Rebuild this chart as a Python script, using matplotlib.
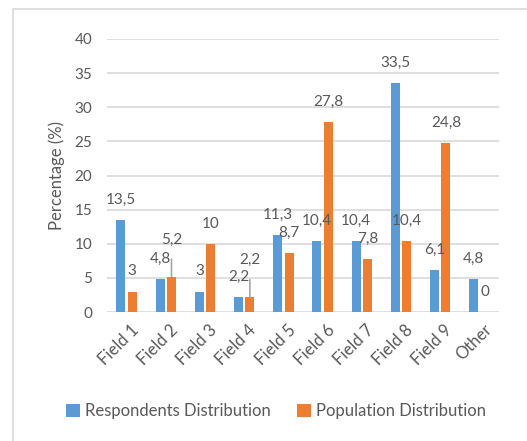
import matplotlib.pyplot as plt
import matplotlib.transforms as mtransforms
import numpy as np
from matplotlib.patches import Rectangle

categories = ["Field 1", "Field 2", "Field 3", "Field 4", "Field 5",
              "Field 6", "Field 7", "Field 8", "Field 9", "Other"]
respondents = [13.5, 4.8, 3.0, 2.2, 11.3, 10.4, 10.4, 33.5, 6.1, 4.8]
population = [3.0, 5.2, 10.0, 2.2, 8.7, 27.8, 7.8, 10.4, 24.8, 0.0]

# labels that were pulled up and tied back to their bar with a leader line
leaderPopulation = {1, 3}

blue = "#5B9BD5"
orange = "#ED7D31"
textColor = "#595959"
gridColor = "#D9D9D9"

plt.rcParams['font.family'] = ['Lato', 'DejaVu Sans']

fig = plt.figure(figsize=(5.27, 4.41), dpi=100)
fig.patches.append(Rectangle((13 / 527, -0.1), 1.0, 1 - 9 / 441 + 0.1,
                             transform=fig.transFigure, fill=False,
                             edgecolor="#D9D9D9", linewidth=1.2))

ax = fig.add_axes([107 / 527, 1 - 312 / 441, 392 / 527, 273 / 441])

x = np.arange(len(categories))
barWidth = 0.23
offset = 0.145
respBars = ax.bar(x - offset, respondents, barWidth, color=blue,
                  label="Respondents Distribution", zorder=3)
popBars = ax.bar(x + offset, population, barWidth, color=orange,
                 label="Population Distribution", zorder=3)

def fmt(v):
    return ("%g" % v).replace(".", ",")

for i, v in enumerate(respondents):
    ax.annotate(fmt(v), (x[i] - offset, v), xytext=(0, 14.5),
                textcoords="offset points", ha="center", va="center",
                fontsize=11, color=textColor)

for i, v in enumerate(population):
    if i in leaderPopulation:
        ax.annotate(fmt(v), (x[i] + offset, v), xytext=(0, 26.5),
                    textcoords="offset points", ha="center", va="center",
                    fontsize=11, color=textColor,
                    arrowprops=dict(arrowstyle="-", color="#A6A6A6", lw=1.2,
                                    shrinkA=7, shrinkB=0))
    else:
        ax.annotate(fmt(v), (x[i] + offset, v), xytext=(0, 14.5),
                    textcoords="offset points", ha="center", va="center",
                    fontsize=11, color=textColor)

ax.set_xlim(-0.5, len(categories) - 0.5)
ax.set_ylim(0, 40)
ax.set_yticks(np.arange(0, 41, 5))
ax.set_xticks(x)
ax.set_xticklabels(categories, rotation=45, ha="right", rotation_mode="anchor")
ax.tick_params(axis="both", length=0, labelsize=11, labelcolor=textColor)
ax.tick_params(axis="x", labelsize=12, pad=7)
ax.tick_params(axis="y", pad=10.5)

# nudge the slanted category names a little to the right
shift = mtransforms.ScaledTranslation(4 / 100, 0, fig.dpi_scale_trans)
for lbl in ax.get_xticklabels():
    lbl.set_transform(lbl.get_transform() + shift)

ax.grid(axis="y", color=gridColor, linewidth=1.2, zorder=0)
for side in ["top", "right", "left", "bottom"]:
    ax.spines[side].set_visible(False)

ax.set_ylabel("Percentage (%)", fontsize=12, color=textColor, labelpad=7)

fig.legend(handles=[respBars, popBars], loc="center", ncol=2,
           bbox_to_anchor=(276 / 527, 1 - 411 / 441), frameon=False,
           fontsize=12, labelcolor=textColor, handlelength=0.8,
           handleheight=0.8, handletextpad=0.3, columnspacing=1.6)

fig.savefig("out.png", dpi=100)
